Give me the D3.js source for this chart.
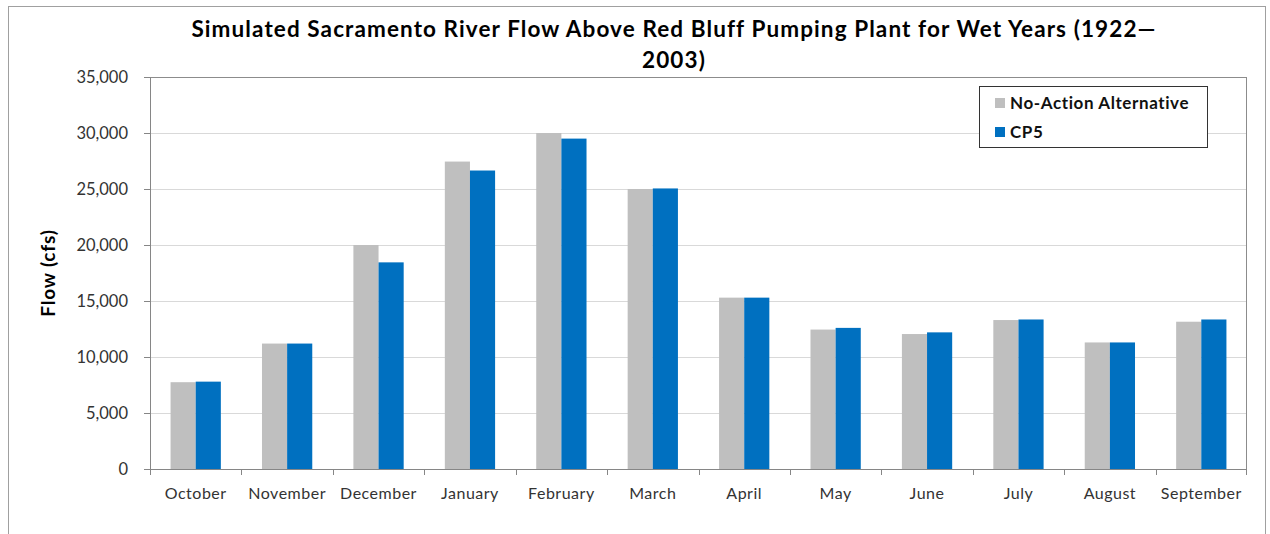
<!DOCTYPE html>
<html lang="en">
<head>
<meta charset="utf-8">
<title>Sacramento River Flow</title>
<script src="https://d3js.org/d3.v7.min.js"></script>
<style>
  body { margin: 0; background: #fff; }
  text { font-family: Lato, "Open Sans", sans-serif; }
</style>
</head>
<body>
<div id="chart"></div>
<script>
// months on the x axis
const months = ["October", "November", "December", "January", "February", "March",
  "April", "May", "June", "July", "August", "September"];
// series names
const seriesNames = ["No-Action Alternative", "CP5"];
// flow values (cfs)
const noAction = [7750, 11200, 20000, 27450, 30000, 25000, 15300, 12450, 12050, 13300, 11300, 13150];
const cp5 = [7800, 11200, 18450, 26650, 29500, 25050, 15300, 12600, 12200, 13350, 11300, 13350];
const yTicks = [0, 5000, 10000, 15000, 20000, 25000, 30000, 35000];
const colors = ["#bfbfbf", "#0070c0"];

const W = 1270, H = 534;
const margin = {top: 77, right: 23, bottom: 65, left: 150};
const width = W - margin.left - margin.right,
      height = H - margin.top - margin.bottom;

const svg = d3.select("#chart").append("svg")
  .attr("width", W).attr("height", H);

// outer chart frame
svg.append("rect")
  .attr("x", 8.5).attr("y", 6.5)
  .attr("width", 1257).attr("height", 540)
  .attr("fill", "none").attr("stroke", "#a0a0a0");

// title
const title = svg.append("text")
  .attr("text-anchor", "middle")
  .attr("font-weight", 700)
  .attr("font-size", 22.5)
  .attr("letter-spacing", 1.1)
  .attr("fill", "#000");
title.append("tspan").attr("x", 674).attr("y", 37)
  .text("Simulated Sacramento River Flow Above Red Bluff Pumping Plant for Wet Years (1922\u2014");
title.append("tspan").attr("x", 674).attr("y", 68).text("2003)");

const g = svg.append("g").attr("transform", `translate(${margin.left},${margin.top})`);

const x = d3.scaleBand().domain(months).range([0, width]).paddingInner(0.45).paddingOuter(0.225);
const xs = d3.scaleBand().domain(seriesNames).range([0, x.bandwidth()]);
const y = d3.scaleLinear().domain([0, 35000]).range([height, 0]);

// gridlines
g.selectAll(".grid").data(yTicks.filter(d => d > 0 && d < 35000)).join("line")
  .attr("x1", 0).attr("x2", width)
  .attr("y1", d => Math.round(y(d)) + 0.5).attr("y2", d => Math.round(y(d)) + 0.5)
  .attr("stroke", "#d9d9d9");

// plot area border
g.append("rect")
  .attr("x", 0.5).attr("y", 0.5).attr("width", width - 1).attr("height", height)
  .attr("fill", "none").attr("stroke", "#8c8c8c");

// bars
const data = months.map((m, i) => ({month: m, values: [noAction[i], cp5[i]]}));
const groups = g.selectAll(".grp").data(data).join("g")
  .attr("transform", d => `translate(${x(d.month)},0)`);
groups.selectAll("rect").data(d => d.values.map((v, j) => ({name: seriesNames[j], v, j}))).join("rect")
  .attr("x", d => xs(d.name))
  .attr("y", d => y(d.v))
  .attr("width", xs.bandwidth())
  .attr("height", d => height - y(d.v))
  .attr("fill", d => colors[d.j]);

// y axis
const yAxis = g.append("g")
  .call(d3.axisLeft(y).tickValues(yTicks).tickSize(6).tickPadding(16)
    .tickFormat(d3.format(",")));
yAxis.select(".domain").attr("stroke", "#868686");
yAxis.selectAll(".tick line").attr("stroke", "#868686");
yAxis.selectAll(".tick text").attr("font-size", 16.5).attr("fill", "#333")
  .style("font-family", "Lato, sans-serif");

// x axis: ticks between categories
const xAxis = g.append("g").attr("transform", `translate(0,${height})`);
xAxis.append("line").attr("x1", 0).attr("x2", width).attr("y1", 0.5).attr("y2", 0.5)
  .attr("stroke", "#868686");
const step = x.step();
xAxis.selectAll(".xt").data(d3.range(months.length + 1)).join("line")
  .attr("x1", i => Math.round(i * step) + 0.5 - (i === months.length ? 1 : 0))
  .attr("x2", i => Math.round(i * step) + 0.5 - (i === months.length ? 1 : 0))
  .attr("y1", 0).attr("y2", 6)
  .attr("stroke", "#868686");
xAxis.selectAll(".xl").data(months).join("text")
  .attr("x", d => x(d) + x.bandwidth() / 2)
  .attr("y", 30)
  .attr("text-anchor", "middle")
  .attr("font-size", 16)
  .attr("letter-spacing", 0.5)
  .attr("fill", "#333")
  .text(d => d);

// y label
svg.append("text")
  .attr("transform", "translate(55,273) rotate(-90)")
  .attr("text-anchor", "middle")
  .attr("font-weight", 700)
  .attr("font-size", 19)
  .attr("letter-spacing", 0.8)
  .attr("fill", "#000")
  .text("Flow (cfs)");

// legend
const legend = svg.append("g").attr("transform", "translate(979,86)");
legend.append("rect").attr("x", 0.5).attr("y", 0.5).attr("width", 228).attr("height", 61)
  .attr("fill", "#fff").attr("stroke", "#333");
seriesNames.forEach((s, i) => {
  legend.append("rect").attr("x", 16).attr("y", 12 + i * 29).attr("width", 10).attr("height", 10)
    .attr("fill", colors[i]);
  legend.append("text").attr("x", 31).attr("y", 23 + i * 29)
    .attr("font-weight", 700).attr("font-size", 17).attr("letter-spacing", 0.6).attr("fill", "#111")
    .text(s);
});
</script>
</body>
</html>
